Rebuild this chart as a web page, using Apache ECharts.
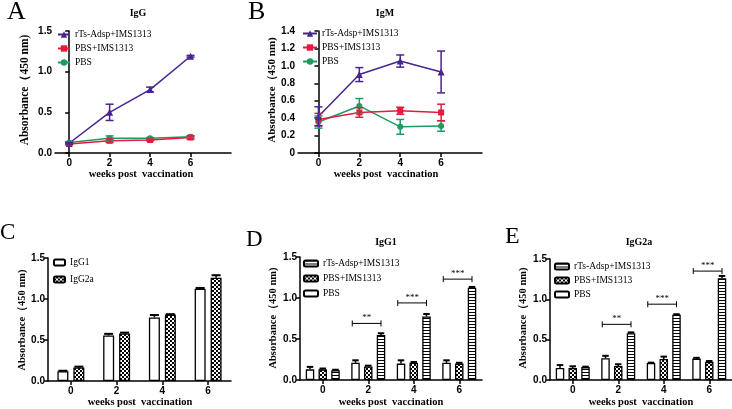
<!DOCTYPE html>
<html><head><meta charset="utf-8">
<script src="https://cdn.jsdelivr.net/npm/echarts@6/dist/echarts.min.js"></script>
<style>html,body{margin:0;padding:0;background:#fff}#c{width:732px;height:409px}</style>
</head><body><div id="c"></div>
<script>
// ---------- data ----------
const weeks = [0, 2, 4, 6];
const weekLabels = ['0', '2', '4', '6'];
const groupNames = ['rTs-Adsp+IMS1313', 'PBS+IMS1313', 'PBS'];

// A: IgG
const igG_rTs = [0.12, 0.50, 0.78, 1.19];
const igG_rTs_err = [0.01, 0.10, 0.03, 0.01];
const igG_pbsIms = [0.11, 0.15, 0.16, 0.19];
const igG_pbsIms_err = [0.01, 0.02, 0.01, 0.02];
const igG_pbs = [0.13, 0.18, 0.18, 0.20];
const igG_pbs_err = [0.01, 0.03, 0.01, 0.01];

// B: IgM
const igM_rTs = [0.42, 0.90, 1.055, 0.93];
const igM_rTs_err = [0.11, 0.08, 0.07, 0.24];
const igM_pbsIms = [0.385, 0.465, 0.485, 0.465];
const igM_pbsIms_err = [0.07, 0.055, 0.04, 0.095];
const igM_pbs = [0.355, 0.54, 0.30, 0.31];
const igM_pbs_err = [0.07, 0.085, 0.085, 0.06];

// C: IgG1 vs IgG2a (rTs-Adsp+IMS1313 group)
const c_igG1 = [0.12, 0.555, 0.775, 1.125];
const c_igG1_err = [0.005, 0.02, 0.03, 0.01];
const c_igG2a = [0.165, 0.58, 0.81, 1.26];
const c_igG2a_err = [0.01, 0.01, 0.005, 0.03];

// D: IgG1
const d_pbs = [0.13, 0.21, 0.20, 0.21];
const d_pbs_err = [0.03, 0.03, 0.04, 0.03];
const d_pbsIms = [0.13, 0.165, 0.21, 0.20];
const d_pbsIms_err = [0.01, 0.01, 0.01, 0.01];
const d_rTs = [0.12, 0.55, 0.775, 1.125];
const d_rTs_err = [0.005, 0.02, 0.03, 0.01];
const d_sigCats = ['2', '4', '6'];
const d_sigY = [0.69, 0.94, 1.23];
const d_sigText = ['**', '***', '***'];

// E: IgG2a
const e_pbs = [0.15, 0.27, 0.21, 0.265];
const e_pbs_err = [0.035, 0.03, 0.005, 0.01];
const e_pbsIms = [0.15, 0.175, 0.26, 0.225];
const e_pbsIms_err = [0.02, 0.02, 0.03, 0.01];
const e_rTs = [0.16, 0.58, 0.81, 1.26];
const e_rTs_err = [0.005, 0.01, 0.005, 0.03];
const e_sigCats = ['2', '4', '6'];
const e_sigY = [0.69, 0.94, 1.35];
const e_sigText = ['**', '***', '***'];

// ---------- styles ----------
const SERIF = 'Liberation Serif';
const SANS = 'Liberation Sans';
const PURPLE = '#47258f', RED = '#e8193f', GREEN = '#1e9a63';

function pattern(kind) {
  const c = document.createElement('canvas');
  const g = c.getContext('2d');
  if (kind === 'checker') {
    c.width = 4; c.height = 4;
    g.fillStyle = '#000'; g.fillRect(0, 0, 4, 4);
    g.fillStyle = '#fff'; g.fillRect(0, 0, 2, 2); g.fillRect(2, 2, 2, 2);
  } else {
    c.width = 3; c.height = 3;
    g.fillStyle = '#fff'; g.fillRect(0, 0, 3, 3);
    g.fillStyle = '#000'; g.fillRect(0, 0, 3, 1);
  }
  return c;
}
const CHECK = { image: pattern('checker'), repeat: 'repeat' };
const STRIPE = { image: pattern('stripe'), repeat: 'repeat' };

const axisLine = { lineStyle: { color: '#000', width: 1.5 } };
const tickLab = { color: '#000', fontFamily: SANS, fontWeight: 'bold', fontSize: 10 };

function yAxisCfg(gi, max, interval, zeroLabel) {
  return {
    type: 'value', gridIndex: gi, min: 0, max: max, interval: interval,
    axisLine: Object.assign({ show: true }, axisLine),
    axisTick: { show: true, length: 4, lineStyle: { color: '#000', width: 1.5 } },
    axisLabel: Object.assign({ margin: 3, formatter: v => (v === 0 && zeroLabel) ? zeroLabel : v.toFixed(1) }, tickLab),
    splitLine: { show: false }
  };
}
function xValueAxis(gi, min, max) {
  return {
    type: 'value', gridIndex: gi, min: min, max: max,
    axisLine: Object.assign({ onZero: false }, axisLine),
    axisTick: { show: true, length: 4, customValues: weeks, lineStyle: { color: '#000', width: 1.5 } },
    axisLabel: Object.assign({ margin: 5, customValues: weeks }, tickLab),
    splitLine: { show: false }
  };
}
function xCatAxis(gi) {
  return {
    type: 'category', gridIndex: gi, data: weekLabels,
    axisLine: Object.assign({ onZero: false }, axisLine),
    axisTick: { show: true, alignWithLabel: true, length: 4, lineStyle: { color: '#000', width: 1.5 } },
    axisLabel: Object.assign({ margin: 5 }, tickLab)
  };
}

function lineSeries(name, ai, vals, color, symbol, size) {
  return {
    type: 'line', name: name, xAxisIndex: ai, yAxisIndex: ai,
    data: weeks.map((w, i) => [w, vals[i]]),
    color: color, symbol: symbol, symbolSize: size,
    lineStyle: { color: color, width: 1.5 }, itemStyle: { color: color },
    z: 3
  };
}
function lineErr(ai, vals, errs, color) {
  return {
    type: 'custom', xAxisIndex: ai, yAxisIndex: ai, z: 4,
    data: weeks.map((w, i) => [w, vals[i], errs[i]]),
    renderItem: function (params, api) {
      const x = api.value(0), v = api.value(1), e = api.value(2);
      const hi = api.coord([x, v + e]), lo = api.coord([x, v - e]);
      const st = { stroke: color, lineWidth: 1.5 };
      return { type: 'group', children: [
        { type: 'line', shape: { x1: hi[0], y1: hi[1], x2: lo[0], y2: lo[1] }, style: st },
        { type: 'line', shape: { x1: hi[0] - 4, y1: hi[1], x2: hi[0] + 4, y2: hi[1] }, style: st },
        { type: 'line', shape: { x1: lo[0] - 4, y1: lo[1], x2: lo[0] + 4, y2: lo[1] }, style: st }
      ] };
    }
  };
}

function barSeries(name, ai, vals, fill, w, gapPct) {
  return {
    type: 'bar', name: name, xAxisIndex: ai, yAxisIndex: ai,
    data: vals, barWidth: w, barGap: gapPct + '%',
    itemStyle: { color: fill, borderColor: '#000', borderWidth: 1.3 },
    z: 2
  };
}
function barErr(ai, vals, errs, pos, n, w, gapPct) {
  const step = w + w * gapPct / 100;
  return {
    type: 'custom', xAxisIndex: ai, yAxisIndex: ai, z: 5,
    data: weekLabels.map((c, i) => [c, vals[i], errs[i]]),
    renderItem: function (params, api) {
      const i = api.value(0), v = api.value(1), e = api.value(2);
      const b = api.coord([i, v]), t = api.coord([i, v + e]);
      const x = b[0] + (pos - (n - 1) / 2) * step;
      const hw = w / 2 - 1;
      return { type: 'group', children: [
        { type: 'line', shape: { x1: x, y1: b[1], x2: x, y2: t[1] }, style: { stroke: '#000', lineWidth: 1.5 } },
        { type: 'line', shape: { x1: x - hw, y1: t[1], x2: x + hw, y2: t[1] }, style: { stroke: '#000', lineWidth: 2 } }
      ] };
    }
  };
}
function sigSeries(ai, cats, ys, texts, w, gapPct) {
  const step = w + w * gapPct / 100;
  return {
    type: 'custom', xAxisIndex: ai, yAxisIndex: ai, z: 6,
    data: cats.map((c, i) => [c, ys[i]]),
    renderItem: function (params, api) {
      const p = api.coord([api.value(0), api.value(1)]);
      const x1 = p[0] - step - w / 2 + 1, x2 = p[0] + step;
      const st = { stroke: '#000', lineWidth: 1 };
      return { type: 'group', children: [
        { type: 'line', shape: { x1: x1, y1: p[1], x2: x2, y2: p[1] }, style: st },
        { type: 'line', shape: { x1: x1, y1: p[1] - 3, x2: x1, y2: p[1] + 3 }, style: st },
        { type: 'line', shape: { x1: x2, y1: p[1] - 3, x2: x2, y2: p[1] + 3 }, style: st },
        { type: 'text', style: { text: texts[params.dataIndex], x: (x1 + x2) / 2, y: p[1] - 1,
          align: 'center', verticalAlign: 'bottom', fontFamily: SERIF, fontSize: 9, fill: '#000' } }
      ] };
    }
  };
}

const legText = { color: '#000', fontFamily: SERIF, fontSize: 9.5 };
function legend(left, top, names, prefix, iw, ih, gap) {
  return {
    left: left, top: top, orient: 'vertical', itemWidth: iw, itemHeight: ih, itemGap: gap,
    padding: 0, data: names.map(n => prefix + n), selectedMode: false,
    formatter: n => n.slice(prefix.length),
    textStyle: Object.assign({ lineHeight: 11 }, legText)
  };
}

// text placed by its middle line (y)
function txt(t, x, y, size, weight, align, rot) {
  const el = { type: 'text', x: x, y: y,
    style: { text: t, x: 0, y: 0, fontFamily: SERIF, fontSize: size, fontWeight: weight || 'normal',
      fill: '#000', align: align || 'left', verticalAlign: 'middle' } };
  if (rot) el.rotation = Math.PI / 2;
  return el;
}

const W1 = 11, G1 = 45;   // panel C bars
const W2 = 8.5, G2 = 50;  // panels D, E bars

const option = {
  animation: false,
  backgroundColor: '#fff',
  grid: [
    { left: 55, top: 31, width: 176, height: 122 },
    { left: 298, top: 31, width: 184, height: 122 },
    { left: 48, top: 258, width: 183, height: 123 },
    { left: 300, top: 257, width: 182, height: 123 },
    { left: 550, top: 259, width: 182, height: 121 }
  ],
  xAxis: [
    xValueAxis(0, -0.7, 8),
    xValueAxis(1, -1, 8),
    xCatAxis(2), xCatAxis(3), xCatAxis(4)
  ],
  yAxis: [
    yAxisCfg(0, 1.5, 0.5),
    yAxisCfg(1, 1.4, 0.2, '0'),
    yAxisCfg(2, 1.5, 0.5),
    yAxisCfg(3, 1.5, 0.5),
    yAxisCfg(4, 1.5, 0.5)
  ],
  legend: [
    legend(57, 29, groupNames, 'A|', 12, 8, 3),
    legend(302, 28, groupNames, 'B|', 14, 8, 3),
    legend(53, 257, ['IgG1', 'IgG2a'], 'C|', 11, 6, 6),
    legend(303, 258, groupNames, 'D|', 14, 6, 4),
    legend(554, 261, groupNames, 'E|', 14, 6, 3)
  ],
  series: [
    lineSeries('A|PBS', 0, igG_pbs, GREEN, 'circle', 6),
    lineSeries('A|PBS+IMS1313', 0, igG_pbsIms, RED, 'rect', 6),
    lineSeries('A|rTs-Adsp+IMS1313', 0, igG_rTs, PURPLE, 'triangle', 7),
    lineErr(0, igG_pbs, igG_pbs_err, GREEN),
    lineErr(0, igG_pbsIms, igG_pbsIms_err, RED),
    lineErr(0, igG_rTs, igG_rTs_err, PURPLE),

    lineSeries('B|PBS', 1, igM_pbs, GREEN, 'circle', 6),
    lineSeries('B|PBS+IMS1313', 1, igM_pbsIms, RED, 'rect', 6),
    lineSeries('B|rTs-Adsp+IMS1313', 1, igM_rTs, PURPLE, 'triangle', 7),
    lineErr(1, igM_pbs, igM_pbs_err, GREEN),
    lineErr(1, igM_pbsIms, igM_pbsIms_err, RED),
    lineErr(1, igM_rTs, igM_rTs_err, PURPLE),

    barSeries('C|IgG1', 2, c_igG1, '#fff', W1, G1),
    barSeries('C|IgG2a', 2, c_igG2a, CHECK, W1, G1),
    barErr(2, c_igG1, c_igG1_err, 0, 2, W1, G1),
    barErr(2, c_igG2a, c_igG2a_err, 1, 2, W1, G1),

    barSeries('D|PBS', 3, d_pbs, '#fff', W2, G2),
    barSeries('D|PBS+IMS1313', 3, d_pbsIms, CHECK, W2, G2),
    barSeries('D|rTs-Adsp+IMS1313', 3, d_rTs, STRIPE, W2, G2),
    barErr(3, d_pbs, d_pbs_err, 0, 3, W2, G2),
    barErr(3, d_pbsIms, d_pbsIms_err, 1, 3, W2, G2),
    barErr(3, d_rTs, d_rTs_err, 2, 3, W2, G2),
    sigSeries(3, d_sigCats, d_sigY, d_sigText, W2, G2),

    barSeries('E|PBS', 4, e_pbs, '#fff', W2, G2),
    barSeries('E|PBS+IMS1313', 4, e_pbsIms, CHECK, W2, G2),
    barSeries('E|rTs-Adsp+IMS1313', 4, e_rTs, STRIPE, W2, G2),
    barErr(4, e_pbs, e_pbs_err, 0, 3, W2, G2),
    barErr(4, e_pbsIms, e_pbsIms_err, 1, 3, W2, G2),
    barErr(4, e_rTs, e_rTs_err, 2, 3, W2, G2),
    sigSeries(4, e_sigCats, e_sigY, e_sigText, W2, G2)
  ],
  graphic: [
    txt('A', 7, 12, 26),
    txt('B', 248, 12, 26),
    txt('C', 0, 233, 23),
    txt('D', 246, 240, 23),
    txt('E', 505, 237, 24),
    txt('IgG', 138, 13.5, 10, 'bold', 'center'),
    txt('IgM', 385, 13.5, 10, 'bold', 'center'),
    txt('IgG1', 386, 242.5, 10, 'bold', 'center'),
    txt('IgG2a', 639, 242.5, 10, 'bold', 'center'),
    txt('Absorbance（450 nm)', 25, 90, 11.5, 'bold', 'center', true),
    txt('Absorbance（450 nm)', 272, 90, 11, 'bold', 'center', true),
    txt('Absorbance（450 nm)', 22, 320, 10.5, 'bold', 'center', true),
    txt('Absorbance（450 nm)', 273, 318, 10.5, 'bold', 'center', true),
    txt('Absorbance（450 nm)', 523, 318, 10.5, 'bold', 'center', true),
    txt('weeks post  vaccination', 141, 174, 10.5, 'bold', 'center'),
    txt('weeks post  vaccination', 386, 174, 10.5, 'bold', 'center'),
    txt('weeks post  vaccination', 140, 402, 10.5, 'bold', 'center'),
    txt('weeks post  vaccination', 391, 402, 10.5, 'bold', 'center'),
    txt('weeks post  vaccination', 641, 402, 10.5, 'bold', 'center')
  ]
};

const chart = echarts.init(document.getElementById('c'), null, { renderer: 'canvas' });
chart.setOption(option);
</script>
</body></html>
